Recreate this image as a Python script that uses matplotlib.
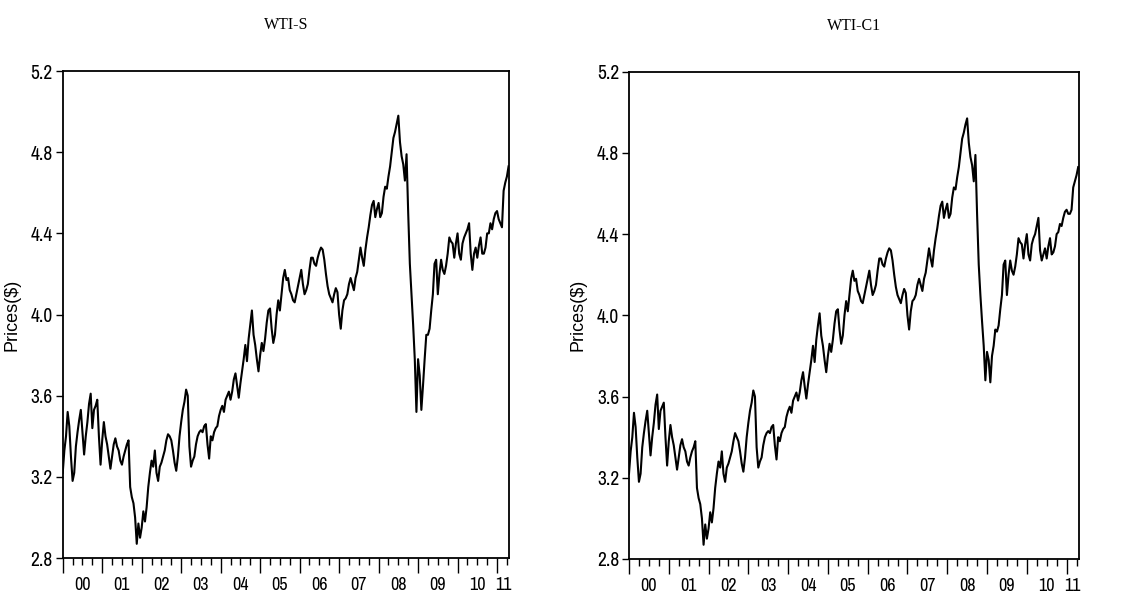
import matplotlib
matplotlib.use("Agg")
import matplotlib.pyplot as plt
import numpy as np
from matplotlib.ticker import FixedLocator, NullFormatter

# log prices, two readings per month, Jan 2000 - Apr 2011
wti_s = [
    3.22, 3.33, 3.40, 3.52, 3.45, 3.30, 3.18, 3.22, 3.35, 3.42, 3.48, 3.53, 3.42, 3.31, 3.40, 3.47, 3.56, 3.61, 3.44, 3.53, 3.55, 3.58, 3.40, 3.26,  # 2000
    3.38, 3.47, 3.40, 3.36, 3.30, 3.24, 3.30, 3.36, 3.39, 3.35, 3.33, 3.28, 3.26, 3.30, 3.33, 3.36, 3.38, 3.15, 3.10, 3.07, 3.00, 2.87, 2.97, 2.90,  # 2001
    2.95, 3.03, 2.98, 3.05, 3.15, 3.22, 3.28, 3.25, 3.33, 3.22, 3.18, 3.25, 3.27, 3.30, 3.33, 3.38, 3.41, 3.40, 3.38, 3.33, 3.27, 3.23, 3.30, 3.40,  # 2002
    3.47, 3.53, 3.57, 3.63, 3.60, 3.35, 3.25, 3.28, 3.30, 3.36, 3.40, 3.42, 3.43, 3.42, 3.45, 3.46, 3.36, 3.29, 3.40, 3.38, 3.42, 3.44, 3.45, 3.50,  # 2003
    3.53, 3.55, 3.52, 3.58, 3.60, 3.62, 3.58, 3.62, 3.68, 3.71, 3.65, 3.59, 3.66, 3.72, 3.78, 3.85, 3.77, 3.88, 3.95, 4.02, 3.90, 3.85, 3.78, 3.72,  # 2004
    3.80, 3.86, 3.82, 3.88, 3.96, 4.02, 4.03, 3.93, 3.86, 3.90, 4.00, 4.07, 4.02, 4.10, 4.18, 4.22, 4.17, 4.18, 4.12, 4.10, 4.07, 4.06, 4.10, 4.14,  # 2005
    4.18, 4.22, 4.15, 4.10, 4.12, 4.15, 4.22, 4.28, 4.28, 4.25, 4.24, 4.28, 4.31, 4.33, 4.32, 4.27, 4.20, 4.14, 4.10, 4.08, 4.06, 4.10, 4.13, 4.11,  # 2006
    4.00, 3.93, 4.02, 4.07, 4.08, 4.10, 4.15, 4.18, 4.15, 4.12, 4.18, 4.21, 4.27, 4.33, 4.28, 4.24, 4.32, 4.38, 4.43, 4.49, 4.54, 4.56, 4.48, 4.52,  # 2007
    4.55, 4.48, 4.50, 4.58, 4.63, 4.62, 4.68, 4.73, 4.80, 4.87, 4.90, 4.94, 4.98, 4.85, 4.78, 4.74, 4.66, 4.79, 4.50, 4.25, 4.10, 3.95, 3.78, 3.52,  # 2008
    3.78, 3.70, 3.53, 3.65, 3.78, 3.90, 3.90, 3.93, 4.02, 4.10, 4.25, 4.27, 4.10, 4.20, 4.27, 4.22, 4.20, 4.24, 4.30, 4.38, 4.36, 4.35, 4.28, 4.35,  # 2009
    4.40, 4.30, 4.27, 4.35, 4.38, 4.40, 4.42, 4.45, 4.30, 4.22, 4.30, 4.33, 4.28, 4.34, 4.38, 4.30, 4.30, 4.33, 4.40, 4.40, 4.45, 4.42, 4.47, 4.50,  # 2010
    4.51, 4.47, 4.45, 4.43, 4.61, 4.65, 4.68, 4.73,  # 2011
]

wti_c1 = [
    3.22, 3.33, 3.40, 3.52, 3.45, 3.30, 3.18, 3.22, 3.35, 3.42, 3.48, 3.53, 3.42, 3.31, 3.40, 3.47, 3.56, 3.61, 3.44, 3.53, 3.55, 3.57, 3.40, 3.26,  # 2000
    3.38, 3.46, 3.40, 3.36, 3.30, 3.24, 3.30, 3.36, 3.39, 3.35, 3.33, 3.28, 3.26, 3.30, 3.33, 3.35, 3.38, 3.15, 3.10, 3.07, 3.00, 2.87, 2.97, 2.90,  # 2001
    2.95, 3.03, 2.98, 3.05, 3.15, 3.22, 3.28, 3.25, 3.33, 3.22, 3.18, 3.25, 3.27, 3.30, 3.33, 3.38, 3.42, 3.40, 3.38, 3.33, 3.27, 3.23, 3.30, 3.40,  # 2002
    3.47, 3.53, 3.57, 3.63, 3.60, 3.35, 3.25, 3.28, 3.30, 3.36, 3.40, 3.42, 3.43, 3.42, 3.45, 3.46, 3.36, 3.29, 3.40, 3.38, 3.42, 3.44, 3.45, 3.50,  # 2003
    3.53, 3.55, 3.52, 3.58, 3.60, 3.62, 3.58, 3.62, 3.68, 3.72, 3.65, 3.59, 3.66, 3.72, 3.78, 3.85, 3.77, 3.88, 3.95, 4.01, 3.90, 3.85, 3.78, 3.72,  # 2004
    3.80, 3.86, 3.82, 3.88, 3.96, 4.02, 4.03, 3.93, 3.86, 3.90, 4.00, 4.07, 4.02, 4.10, 4.18, 4.22, 4.17, 4.18, 4.12, 4.10, 4.07, 4.06, 4.10, 4.14,  # 2005
    4.18, 4.22, 4.15, 4.10, 4.12, 4.15, 4.22, 4.28, 4.28, 4.25, 4.24, 4.28, 4.31, 4.33, 4.32, 4.27, 4.20, 4.14, 4.10, 4.08, 4.06, 4.10, 4.13, 4.11,  # 2006
    4.00, 3.93, 4.02, 4.07, 4.08, 4.10, 4.15, 4.18, 4.15, 4.12, 4.18, 4.21, 4.27, 4.33, 4.28, 4.24, 4.32, 4.38, 4.43, 4.49, 4.54, 4.56, 4.48, 4.52,  # 2007
    4.55, 4.48, 4.50, 4.58, 4.63, 4.62, 4.68, 4.73, 4.80, 4.87, 4.90, 4.94, 4.97, 4.85, 4.78, 4.74, 4.66, 4.79, 4.50, 4.25, 4.10, 3.97, 3.85, 3.68,  # 2008
    3.82, 3.78, 3.67, 3.80, 3.85, 3.93, 3.92, 3.95, 4.03, 4.10, 4.25, 4.27, 4.10, 4.20, 4.27, 4.22, 4.20, 4.24, 4.30, 4.38, 4.36, 4.35, 4.28, 4.35,  # 2009
    4.40, 4.30, 4.27, 4.35, 4.38, 4.40, 4.44, 4.48, 4.32, 4.27, 4.30, 4.33, 4.28, 4.34, 4.38, 4.30, 4.31, 4.34, 4.40, 4.41, 4.45, 4.44, 4.48, 4.51,  # 2010
    4.52, 4.50, 4.50, 4.52, 4.63, 4.66, 4.69, 4.73,  # 2011
]

titles = ["WTI-S", "WTI-C1"]
year_labels = ["00", "01", "02", "03", "04", "05", "06", "07", "08", "09", "10", "11"]
y_ticks = [2.8, 3.2, 3.6, 4.0, 4.4, 4.8, 5.2]

narrow = ["Archivo Narrow", "PT Sans Narrow", "Liberation Sans", "DejaVu Sans"]
serif = ["Liberation Serif", "DejaVu Serif"]

fig = plt.figure(figsize=(11.22, 5.97), dpi=100)
ax1 = fig.add_axes([0.0559, 0.0653, 0.398, 0.8157])
ax2 = fig.add_axes([0.5606, 0.0637, 0.401, 0.8162])


def draw_panel(ax, values, title):
    t = 2000 + np.arange(len(values)) / 24.0
    ax.plot(t, values, color="black", linewidth=1.5)
    x_end = 2011.31
    ax.set_xlim(2000, x_end)
    ax.set_ylim(2.8, 5.2)

    # labels sit in the middle of each year, the last one in the partial year
    years = np.arange(2000, 2012)
    label_pos = [y + 0.5 for y in years[:-1]] + [(2011 + x_end) / 2]
    ax.xaxis.set_major_locator(FixedLocator(label_pos))
    ax.set_xticklabels(year_labels)
    quarters = [y + q for y in years for q in (0.25, 0.5, 0.75) if y + q < x_end]
    quarters = [q for q in quarters if min(abs(q - p) for p in label_pos) > 0.05]
    ax.xaxis.set_minor_locator(FixedLocator(quarters))
    ax.xaxis.set_minor_formatter(NullFormatter())
    ax.tick_params(axis="x", which="major", direction="out", length=0, pad=14, labelsize=13)
    ax.tick_params(axis="x", which="minor", direction="out", length=5, width=1.0)
    # mid-year quarter ticks (the label positions get no mark of their own)
    mid = ax.secondary_xaxis("bottom")
    mid.set_xticks([y + 0.5 for y in years[:-1]])
    mid.set_xticklabels([])
    mid.tick_params(axis="x", direction="out", length=5, width=1.0)
    # long ticks at the year boundaries
    sec = ax.secondary_xaxis("bottom")
    sec.set_xticks(years)
    sec.set_xticklabels([])
    sec.tick_params(axis="x", direction="out", length=11, width=1.0)
    for s in (mid, sec):
        s.spines["bottom"].set_visible(False)

    ax.set_yticks(y_ticks)
    ax.set_yticklabels(["%.1f" % v for v in y_ticks])
    ax.tick_params(axis="y", direction="out", length=5, width=1.0, pad=2, labelsize=14)
    for lab in ax.get_xticklabels() + ax.get_yticklabels():
        lab.set_family(narrow)

    for sp in ax.spines.values():
        sp.set_linewidth(1.3)

    ax.set_ylabel("Prices($)", fontsize=13, family=["Liberation Sans", "DejaVu Sans"])
    ax.yaxis.set_label_coords(-0.095, 0.5)
    ax.set_title(title, fontsize=11.5, family=serif, pad=30)


draw_panel(ax1, wti_s, titles[0])
draw_panel(ax2, wti_c1, titles[1])

fig.savefig("out.png", dpi=100)
